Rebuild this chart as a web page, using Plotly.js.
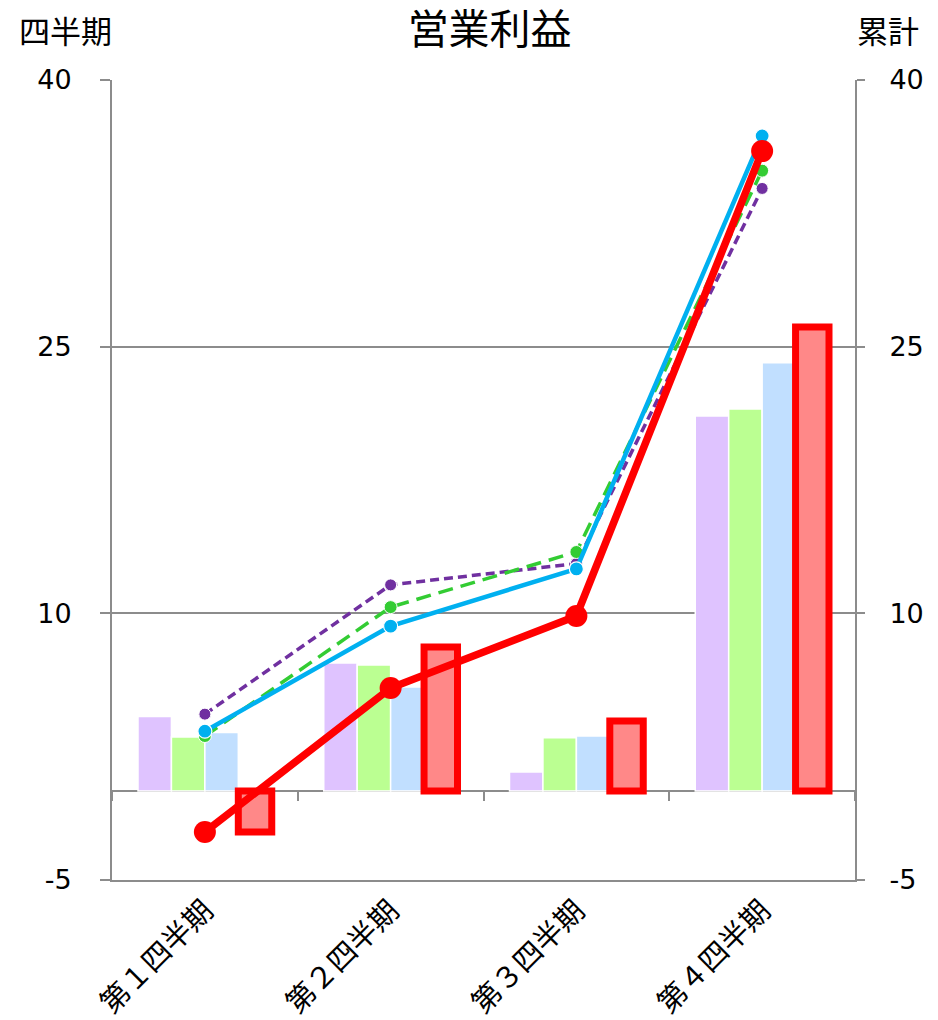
<!DOCTYPE html>
<html>
<head>
<meta charset="utf-8">
<script src="https://cdn.plot.ly/plotly-3.0.1.min.js"></script>
<style>html,body{margin:0;padding:0;background:#fff;}#chart{width:938px;height:1020px;}</style>
</head>
<body>
<div id="chart"></div>
<script>
const categories = ['第１四半期', '第２四半期', '第３四半期', '第４四半期'];
// quarterly values (left axis, bars)
const quarterPurple = [4.2, 7.2, 1.07, 21.1];
const quarterGreen  = [3.05, 7.1, 3.0, 21.5];
const quarterBlue   = [3.3, 5.85, 3.1, 24.1];
const quarterRed    = [-2.3, 8.1, 3.95, 26.1];
// cumulative values (right axis, lines)
const cumPurple = [4.33, 11.6, 12.8, 33.9];
const cumGreen  = [3.1, 10.35, 13.45, 34.9];
const cumBlue   = [3.37, 9.28, 12.5, 36.85];
const cumRed    = [-2.3, 5.8, 9.85, 36.0];
const yTicks = [-5, 10, 25, 40];

const FONT = 'DejaVu Sans, "Noto Sans CJK JP", sans-serif';
const GRID = '#8c8c8c';

function bar(y, fill, lineColor, lineWidth) {
  return {type: 'bar', x: categories, y: y, xaxis: 'x', yaxis: 'y',
    marker: {color: fill, line: {color: lineColor, width: lineWidth}},
    showlegend: false, hoverinfo: 'skip'};
}
function line(y, color, width, dash, msize, mlineW) {
  return {type: 'scatter', mode: 'lines+markers', x: categories, y: y, xaxis: 'x', yaxis: 'y2',
    line: {color: color, width: width, dash: dash},
    marker: {color: color, size: msize, line: {color: '#ffffff', width: mlineW}},
    showlegend: false, hoverinfo: 'skip'};
}

const data = [
  bar(quarterPurple, '#DFC3FF', '#ffffff', 1.5),
  bar(quarterGreen, '#BBFF92', '#ffffff', 1.5),
  bar(quarterBlue, '#C1DFFF', '#ffffff', 1.5),
  bar(quarterRed, '#FF8888', '#FF0000', 7),
  line(cumPurple, '#7030A0', 3.5, '9px,5px', 12, 1),
  line(cumGreen, '#33CC33', 3.5, '15px,8px', 13, 1),
  line(cumBlue, '#00B0F0', 4.5, 'solid', 14, 1.2),
  line(cumRed, '#FF0000', 7.5, 'solid', 22, 0),
  // carrier for the category tick marks drawn at the zero line
  {type: 'scatter', mode: 'markers', x: categories, y: categories.map(() => null),
   xaxis: 'x2', yaxis: 'y', showlegend: false, hoverinfo: 'skip', marker: {opacity: 0}}
];

const layout = {
  width: 938, height: 1020,
  margin: {l: 112, r: 83, t: 80, b: 140},
  paper_bgcolor: '#ffffff', plot_bgcolor: '#ffffff',
  font: {family: FONT, size: 27, color: '#000000'},
  barmode: 'group', bargap: 0.28, bargroupgap: 0,
  showlegend: false,
  title: {text: '営業利益', font: {family: FONT, size: 41, color: '#000000'},
    xref: 'container', x: 0.522, xanchor: 'center', yref: 'container', y: 0.971, yanchor: 'middle'},
  xaxis: {type: 'category', categoryorder: 'array', categoryarray: categories,
    range: [-0.5, 3.5], showline: true, linecolor: GRID, linewidth: 2,
    ticks: '', tickangle: -45, showgrid: false, zeroline: false,
    tickfont: {family: FONT, size: 29, color: '#000000'}},
  xaxis2: {type: 'category', categoryorder: 'array', categoryarray: categories,
    overlaying: 'x', anchor: 'free', position: 1/9, range: [-0.5, 3.5],
    showline: false, showgrid: false, zeroline: false, showticklabels: false,
    ticks: 'outside', tickson: 'boundaries', ticklen: 9, tickwidth: 2, tickcolor: GRID},
  yaxis: {range: [-5, 40], tickmode: 'array', tickvals: yTicks, ticktext: yTicks.map(String),
    showline: true, linecolor: GRID, linewidth: 2,
    ticks: 'outside', ticklen: 10, tickwidth: 2, tickcolor: GRID,
    showgrid: true, gridcolor: GRID, gridwidth: 2,
    zeroline: true, zerolinecolor: GRID, zerolinewidth: 2,
    ticklabelstandoff: 23,
    tickfont: {family: FONT, size: 27, color: '#000000'}},
  yaxis2: {range: [-5, 40], overlaying: 'y', side: 'right', anchor: 'x',
    tickmode: 'array', tickvals: yTicks, ticktext: yTicks.map(String),
    showline: true, linecolor: GRID, linewidth: 2,
    ticks: 'outside', ticklen: 8, tickwidth: 2, tickcolor: GRID,
    showgrid: false, zeroline: false, ticklabelstandoff: 19,
    tickfont: {family: FONT, size: 27, color: '#000000'}},
  annotations: [
    {text: '四半期', xref: 'paper', yref: 'paper', x: -0.062, y: 1.06,
     xanchor: 'center', yanchor: 'middle', showarrow: false,
     font: {family: FONT, size: 31, color: '#000000'}},
    {text: '累計', xref: 'paper', yref: 'paper', x: 1.044, y: 1.06,
     xanchor: 'center', yanchor: 'middle', showarrow: false,
     font: {family: FONT, size: 31, color: '#000000'}}
  ]
};

Plotly.newPlot('chart', data, layout, {displayModeBar: false, staticPlot: true});
</script>
</body>
</html>
